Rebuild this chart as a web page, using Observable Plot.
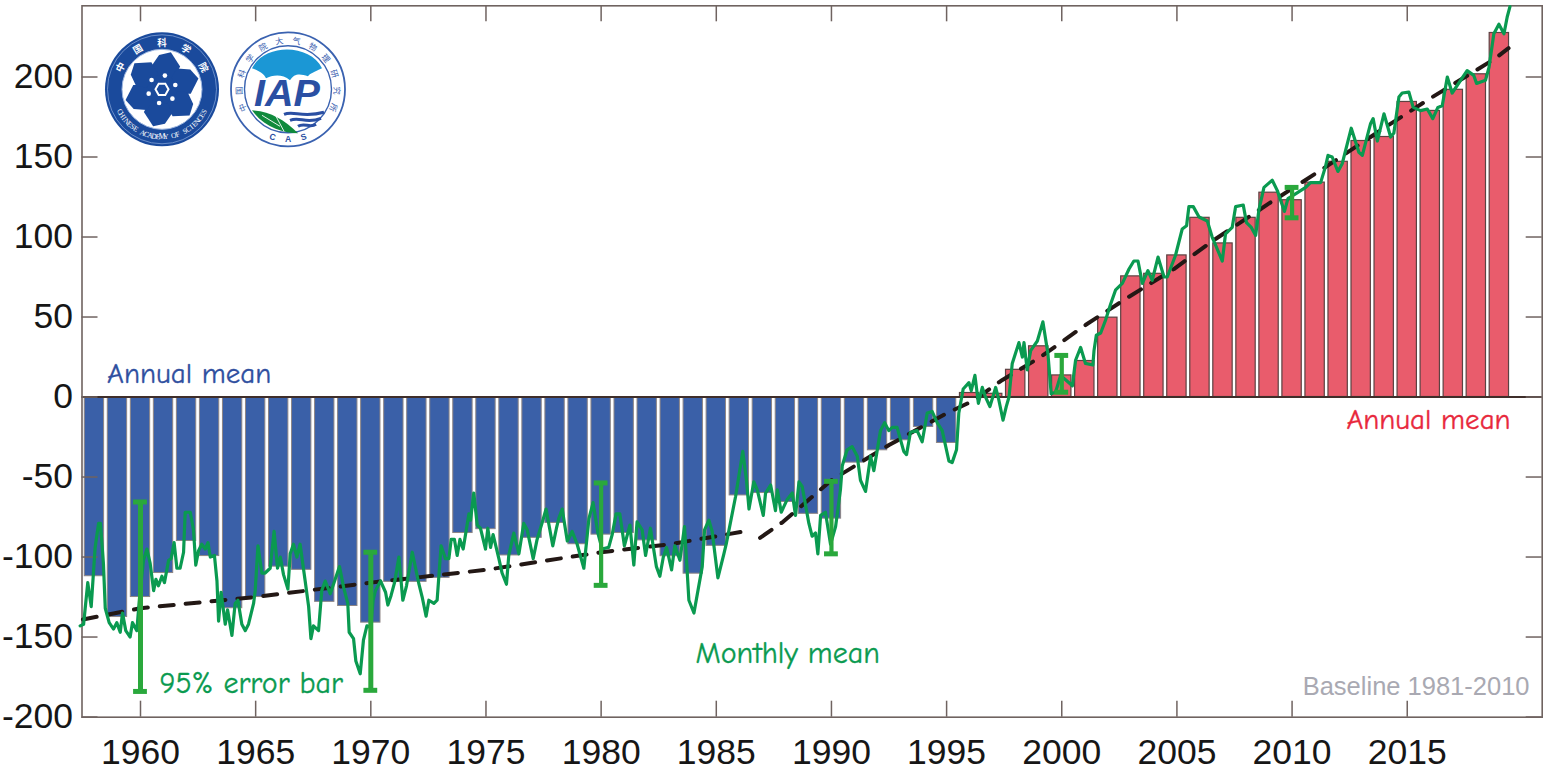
<!DOCTYPE html>
<html>
<head>
<meta charset="utf-8">
<script src="https://cdn.jsdelivr.net/npm/d3@7"></script>
<script src="https://cdn.jsdelivr.net/npm/@observablehq/plot@0.6"></script>
<style>
html,body{margin:0;padding:0;background:#fff;}
#wrap{position:relative;width:1554px;height:781px;overflow:hidden;}
#wrap svg{display:block;}
#logos{position:absolute;left:0;top:0;pointer-events:none;}
</style>
</head>
<body>
<div id="wrap"></div>
<script>
const years = d3.range(1958, 2020);
const annualMean = [
  -112,-137.5,-125,-110,-90,-99.4,-132,-125,-106,-108,-128,-130.6,-141,-115.5,-115.5,-113,-85,-82.6,
  -99,-88,-78.7,-92,-86,-85,-89.6,-99.5,-110.4,-93,-61.5,-60,-65.6,-73,-76,-41,-33.3,-27,-18.7,-28.7,
  2.5,2,17,31.7,13.5,22.5,49.6,75.4,77,88.5,112,96,112,127.7,123,134,147,160,162.5,184.4,178.8,192,201.7,227.5
];
const monthT = [
  1957.38,1957.53,1957.71,1957.86,1958.03,1958.18,1958.26,1958.39,1958.47,1958.64,1958.83,1958.97,1959.12,1959.22,1959.36,1959.55,1959.65,1959.84,1959.96,
  1960.13,1960.28,1960.42,1960.57,1960.67,1960.78,1960.93,1961.04,1961.22,1961.33,1961.46,1961.58,1961.72,1961.87,1961.94,1962.16,1962.30,1962.40,1962.52,1962.66,1962.81,1962.93,
  1963.03,1963.21,1963.32,1963.39,1963.50,1963.68,1963.78,1963.97,1964.11,1964.23,1964.40,1964.55,1964.69,1964.91,1964.98,1965.10,1965.27,1965.41,1965.63,1965.80,1965.95,
  1966.07,1966.21,1966.40,1966.50,1966.64,1966.79,1966.93,1967.15,1967.30,1967.40,1967.51,1967.73,1967.87,1968.02,1968.24,1968.45,1968.64,1968.82,1969.00,1969.06,1969.25,1969.35,1969.54,1969.68,1969.83,
  1969.99,1970.10,1970.20,1970.42,1970.64,1970.74,1970.88,1971.03,1971.22,1971.39,1971.55,1971.80,1972.09,1972.23,1972.40,1972.52,1972.74,1972.88,
  1973.05,1973.24,1973.39,1973.49,1973.63,1973.75,1973.87,1974.01,1974.26,1974.33,1974.47,1974.62,1974.76,1974.98,1975.08,1975.20,1975.31,1975.56,1975.70,1975.89,1975.99,
  1976.21,1976.43,1976.64,1976.79,1977.05,1977.22,1977.47,1977.61,1977.90,1978.06,1978.16,1978.31,1978.53,1978.74,1978.96,1979.25,1979.47,1979.65,1979.86,
  1980.04,1980.33,1980.48,1980.65,1980.81,1981.01,1981.25,1981.42,1981.56,1981.78,1981.93,1982.14,1982.40,1982.55,
  1982.70,1982.84,1983.06,1983.20,1983.42,1983.62,1983.81,1984.03,1984.39,1984.49,1984.68,1984.82,1985.07,1985.33,1985.43,1985.84,1986.15,1986.31,1986.42,1986.63,1986.78,
  1987.04,1987.14,1987.36,1987.57,1987.65,1987.82,1988.08,1988.30,1988.44,1988.59,1988.73,1989.02,1989.16,1989.31,1989.41,1989.53,1989.74,1989.96,
  1990.18,1990.39,1990.47,1990.68,1990.90,1991.12,1991.26,1991.48,1991.70,1991.84,1992.13,1992.31,1992.49,1992.64,1992.85,1993.14,1993.26,1993.43,1993.72,1993.94,
  1994.16,1994.37,1994.59,1994.81,1995.10,1995.24,1995.43,1995.53,1995.72,1995.97,1996.07,1996.23,1996.38,1996.55,1996.69,1996.88,1997.13,1997.27,1997.45,1997.59,1997.71,1997.85,
  1998.14,1998.29,1998.36,1998.50,1998.65,1998.94,1999.18,1999.40,1999.54,1999.73,1999.95,2000.46,2000.60,2000.82,2001.03,2001.35,2001.40,2001.50,2001.69,2001.90,
  2002.12,2002.34,2002.63,2002.92,2003.13,2003.31,2003.50,2003.74,2003.93,2004.18,2004.44,2004.58,2004.94,2005.23,2005.42,2005.52,2005.71,2005.96,2006.32,2006.53,2006.97,
  2007.11,2007.40,2007.55,2007.88,2008.02,2008.23,2008.42,2008.56,2008.78,2009.14,2009.36,2009.67,2009.82,2010.15,2010.59,2010.80,2011.24,2011.45,2011.56,2011.74,2011.99,
  2012.18,2012.57,2012.90,2013.05,2013.41,2013.52,2013.70,2013.99,2014.28,2014.42,2014.64,2014.78,2015.07,2015.26,2015.58,2015.87,2016.11,2016.33,2016.52,2016.74,2016.95,
  2017.60,2017.89,2018.01,2018.40,2018.55,2018.76,2018.98,2019.20,2019.34,2019.46
];
const monthV = [
  -143,-142,-116,-131,-94,-79,-79,-104,-132,-141,-145,-141,-147,-135,-146,-150,-141,-146,-125,
  -102,-95,-104,-121,-114,-118,-112,-116,-102,-101,-91,-107,-107,-97,-72,-72,-83,-105,-96,-92,-95,-91,
  -100,-99,-115,-140,-122,-142,-133,-149,-129,-127,-142,-146,-142,-129,-121,-93,-110,-110,-107,-84,-107,
  -100,-111,-120,-98,-92,-100,-92,-115,-131,-151,-143,-146,-121,-115,-123,-114,-106,-119,-129,-147,-151,-165,-173,-152,-143,
  -144,-127,-121,-115,-122,-130,-124,-116,-100,-127,-118,-97,-117,-125,-137,-127,-129,-127,
  -93,-101,-101,-89,-89,-99,-89,-95,-73,-77,-60,-80,-82,-95,-82,-94,-86,-101,-110,-117,-99,
  -85,-98,-79,-83,-101,-89,-77,-70,-93,-82,-76,-70,-90,-84,-92,-107,-76,-66,-85,
  -95,-94,-86,-73,-73,-93,-80,-105,-78,-83,-99,-82,-106,-112,
  -100,-94,-108,-93,-102,-81,-127,-135,-106,-83,-77,-84,-113,-98,-92,-62,-34,-52,-70,-53,-58,
  -74,-60,-55,-71,-58,-72,-64,-60,-74,-53,-56,-79,-87,-85,-98,-74,-72,-92,
  -81,-58,-43,-33,-31,-37,-52,-59,-37,-46,-21,-16,-21,-19,-19,-34,-36,-22,-21,-28,
  -10,-9,-16,-21,-40,-41,-33,-10,5,9,4,13.5,-4,6,0,-6,6,-2,-14.5,-6,0,21,
  34,25,34,17,29,35,47,27,2,3,13.5,7,23,31,21,20,29,38.6,40,48,
  58,67,71,80,85,85,71,79,73,87.5,75,75,88.6,105,107,119,119,112.5,110,100,85,
  102,106,119,120,109,106,101,117,131,135.5,129,116,124,127,131,134,134,144,151,150,141,
  146,168,153,151,171,174,160,177,162.5,165,187.5,190,190.6,181,179,180,174,181,182,200,190,
  204,201,196,198,206,227,233,227,237.5,244
];
const trendT = [1957.5,1960,1965,1970,1975,1980,1983,1986.05,1986.4,1986.9,1987.9,1990,1992.5,1995.03,1996.2,1997.35,1999.08,2001.03,2002.9,2004.87,2006.6,2009,2011.24,2013.98,2015.87,2018.76,2019.4];
const trendV = [-139,-132,-125,-116,-108,-97,-92,-84.4,null,-88,-78,-52,-30,-10,-2,10,25,45,62.5,80,98,121,141.7,168,185.5,211,218];
const errYears = [1960,1970,1980,1990,2000,2010];
const errLow = [-184,-183.3,-117.7,-98,3,112];
const errHigh = [-65.6,-97,-53.7,-52.7,26,131];
const xTicks = [1960,1965,1970,1975,1980,1985,1990,1995,2000,2005,2010,2015];
const yTicks = [-200,-150,-100,-50,0,50,100,150,200];
const notesLeft = [
  {label:"Annual mean", year:1958.55, value:14.8, color:"#2f4f9f", size:29},
  {label:"Monthly mean", year:1984.1, value:-160, color:"#0a9a50", size:30},
  {label:"95% error bar", year:1960.83, value:-179, color:"#0a9a50", size:30}
];
const notesRight = [
  {label:"Annual mean", year:2019.49, value:-14, color:"#e8283c", size:29}
];

const xMin = 1957.46, xMax = 2020.86, yMin = -200.1, yMax = 244.5;
const annual = years.map((year,i)=>({year, value:annualMean[i]}));
const monthly = monthT.map((t,i)=>({t, v:monthV[i]}));
const trend = trendT.map((t,i)=>({t, v:trendV[i]}));
const err = errYears.map((year,i)=>({year, lo:errLow[i], hi:errHigh[i]}));
const frameColor = "#6f6360";
const comic = "'Comic Sans MS','Comic Neue','DejaVu Sans',sans-serif";

const chart = Plot.plot({
  width:1554, height:781,
  marginLeft:81.5, marginRight:12.3, marginTop:5.3, marginBottom:64.3,
  style:{fontFamily:"'Liberation Sans',Arial,sans-serif", background:"#fff", overflow:"visible"},
  x:{domain:[xMin,xMax], type:"linear"},
  y:{domain:[yMin,yMax], type:"linear"},
  marks:[
    Plot.rectY(annual.filter(d=>d.value<0),{x1:d=>d.year-0.42,x2:d=>d.year+0.42,y:"value",fill:"#3a60a8",stroke:"#8d8585",strokeWidth:1}),
    Plot.rectY(annual.filter(d=>d.value>=0),{x1:d=>d.year-0.42,x2:d=>d.year+0.42,y:"value",fill:"#e95c6c",stroke:"#5c4242",strokeWidth:1.2}),
    Plot.ruleY([0],{stroke:"#3f2e2a",strokeWidth:2}),
    Plot.ruleY(yTicks,{x1:xMin,x2:xMin+0.695,stroke:frameColor,strokeWidth:1.5}),
    Plot.ruleY(yTicks,{x1:xMax-0.695,x2:xMax,stroke:frameColor,strokeWidth:1.5}),
    Plot.ruleX(xTicks,{y1:yMin,y2:yMin+10,stroke:frameColor,strokeWidth:1.5}),
    Plot.ruleX(xTicks,{y1:yMax-10,y2:yMax,stroke:frameColor,strokeWidth:1.5}),
    Plot.frame({stroke:frameColor,strokeWidth:1.6}),
    Plot.line(trend,{x:"t",y:"v",stroke:"#231815",strokeWidth:4,strokeDasharray:"14,12",curve:"linear"}),
    Plot.line(monthly,{x:"t",y:"v",stroke:"#0a9a50",strokeWidth:3.2,curve:"linear",strokeLinejoin:"round"}),
    Plot.ruleX(err,{x:"year",y1:"lo",y2:"hi",stroke:"#2aa83c",strokeWidth:d=>d.year<1975?5:4.2}),
    Plot.ruleY(err,{y:"lo",x1:d=>d.year-0.3,x2:d=>d.year+0.3,stroke:"#2aa83c",strokeWidth:5}),
    Plot.ruleY(err,{y:"hi",x1:d=>d.year-0.3,x2:d=>d.year+0.3,stroke:"#2aa83c",strokeWidth:5}),
    Plot.axisY({ticks:yTicks,tickSize:0,tickPadding:9,fontSize:35.5,tickFormat:d=>String(d),label:null,fill:"#161616"}),
    Plot.axisX({ticks:xTicks,tickSize:0,tickPadding:22,fontSize:35.5,tickFormat:d=>String(d),label:null,fill:"#161616"}),
    Plot.text(notesLeft,{x:"year",y:"value",text:"label",fill:"color",stroke:"color",strokeWidth:0.35,textAnchor:"start",fontSize:"size",fontFamily:comic}),
    Plot.text(notesRight,{x:"year",y:"value",text:"label",fill:"color",stroke:"color",strokeWidth:0.35,textAnchor:"end",fontSize:"size",fontFamily:comic}),
    Plot.text(["Baseline 1981-2010"],{x:2020.31,y:-181,textAnchor:"end",fontSize:25.5,fill:"#a9a9b2"})
  ]
});
document.getElementById("wrap").appendChild(chart);

// Institution logos (decorative overlay)
function petal(i){return `<path d="M-9,-13 L-15,-21 L-10,-33 L1,-38 L13,-26 L9,-13 Z" transform="rotate(${12+i*60})" fill="#1a4a9c"/>`;}
function dot(i){const a=(i*60-78)*Math.PI/180;return `<circle cx="${(14*Math.cos(a)).toFixed(2)}" cy="${(14*Math.sin(a)).toFixed(2)}" r="2.3" fill="#fff"/>`;}
// text set one glyph at a time around a ring; angles in degrees clockwise from the top
function ring(str, r, from, to, attrs, below){
  const chars = Array.from(str), n = chars.length;
  return chars.map((c,i)=>{
    const t = n>1 ? from+(to-from)*i/(n-1) : from;
    const a = t*Math.PI/180, x = r*Math.sin(a), y = -r*Math.cos(a);
    const rot = below ? t+180 : t;
    return `<text ${attrs} text-anchor="middle" dominant-baseline="central" transform="translate(${x.toFixed(2)},${y.toFixed(2)}) rotate(${rot.toFixed(1)})">${c}</text>`;
  }).join("");
}
const logos = `
<svg id="logos" width="1554" height="781" viewBox="0 0 1554 781" xmlns="http://www.w3.org/2000/svg">
<g transform="translate(162,89.3)">
  <circle r="57" fill="#1a4a9c"/>
  <circle r="54.5" fill="none" stroke="#7f9fd6" stroke-width="0.8"/>
  <circle r="40" fill="#fff" stroke="#9db6e0" stroke-width="1"/>
  <circle r="18" fill="#1a4a9c"/>
  ${[0,1,2,3,4,5].map(petal).join("")}
  ${[0,1,2,3,4,5].map(dot).join("")}
  <polygon points="6.5,0 3.3,5.6 -3.3,5.6 -6.5,0 -3.3,-5.6 3.3,-5.6" fill="none" stroke="#fff" stroke-width="2"/>
  ${ring("中国科学院",47.5,-62,62,`font-family="'Noto Sans CJK SC'" font-size="9.5" font-weight="700" fill="#fff"`,false)}
  ${ring("CHINESE ACADEMY OF SCIENCES",47.5,242,118,`font-family="'Liberation Serif'" font-size="7.4" fill="#fff"`,true)}
</g>
<g transform="translate(288,89.3)">
  <circle r="57" fill="#fff" stroke="#3a62b0" stroke-width="1.8"/>
  <circle r="43.5" fill="#fff" stroke="#3a62b0" stroke-width="1.4"/>
  ${ring("中国科学院大气物理研究所",50,-112,112,`font-family="'Noto Sans CJK SC'" font-size="8.2" fill="#3a62b0"`,false)}
  <path d="M-36,-21 C-24,-46 22,-46 34,-21 C26,-17 22,-16 20,-13 C12,-16 6,-16 2,-9 C-6,-16 -16,-14 -22,-11 C-24,-16 -30,-19 -36,-21 Z" fill="#1b97d5"/>
  <text x="-1" y="17" text-anchor="middle" font-family="'Liberation Sans'" font-weight="700" font-style="italic" font-size="36" fill="#2a4fa3" textLength="66" lengthAdjust="spacingAndGlyphs">IAP</text>
  <path d="M-36,21 C-18,22 -4,30 10,44 C-4,44 -24,38 -36,21 Z" fill="#0f8a3c"/>
  <path d="M-12,27 L-4,42 M-26,26 L-8,37" fill="none" stroke="#fff" stroke-width="0.9"/>
  <path d="M-4,25 C6,21 14,29 36,23 M2,31 C12,27 18,35 33,29 M10,37 C16,33 22,39 28,35" fill="none" stroke="#2a4fa3" stroke-width="3"/>
  ${ring("CAS",50,198,162,`font-family="'Liberation Sans'" font-weight="700" font-size="8.6" fill="#2a4fa3"`,true)}
</g>
</svg>`;
document.getElementById("wrap").insertAdjacentHTML("beforeend", logos);
</script>
</body>
</html>
